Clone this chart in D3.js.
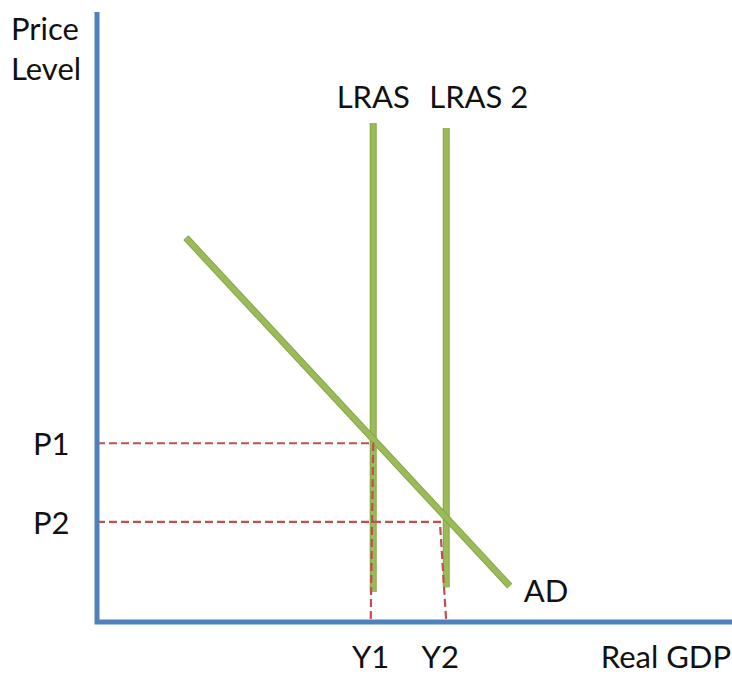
<!DOCTYPE html>
<html>
<head>
<meta charset="utf-8">
<script src="https://cdn.jsdelivr.net/npm/d3@7"></script>
<style>
  body { margin: 0; background: #fff; }
  text { font-family: Lato, "Open Sans", sans-serif; fill: #111; }
</style>
</head>
<body>
<div id="chart"></div>
<script>
const width = 732, height = 677;

// Curves in abstract units (x: real GDP 0-10, y: price level 0-10)
const lrasCurves = [
  { name: "LRAS", x: 4.35, y0: 0.49, y1: 8.18 },
  { name: "LRAS 2", x: 5.50, y0: 0.57, y1: 8.10 }
];
const adPoints = [[1.40, 6.30], [6.50, 0.59]];
const priceLevels = [
  { name: "P1", p: 2.93, xTop: 4.35, xBottom: 4.31 },
  { name: "P2", p: 1.64, xTop: 5.40, xBottom: 5.50 }
];
const outputLabels = ["Y1", "Y2"];

const svg = d3.select("#chart").append("svg")
  .attr("width", width)
  .attr("height", height);

const x = d3.scaleLinear().domain([0, 10]).range([97, 732]);
const y = d3.scaleLinear().domain([0, 10]).range([622, 12]);

const green = "#9BBB59", greenEdge = "#86A648";
const dash = "#C0504D";

// LRAS verticals
lrasCurves.forEach(c => {
  [[greenEdge, 7], [green, 5]].forEach(([col, w]) => {
    svg.append("line")
      .attr("x1", x(c.x)).attr("x2", x(c.x))
      .attr("y1", y(c.y1)).attr("y2", y(c.y0))
      .attr("stroke", col).attr("stroke-width", w);
  });
});

// AD
const line = d3.line().x(d => x(d[0])).y(d => y(d[1]));
[[greenEdge, 7], [green, 5]].forEach(([col, w]) => {
  svg.append("path")
    .datum(adPoints)
    .attr("d", line)
    .attr("fill", "none")
    .attr("stroke", col).attr("stroke-width", w);
});

// dashed guides
priceLevels.forEach(d => {
  svg.append("path")
    .attr("d", line([[0, d.p], [d.xTop, d.p], [d.xBottom, 0]]))
    .attr("fill", "none")
    .attr("stroke", dash)
    .attr("stroke-width", 2.2)
    .attr("stroke-dasharray", "8,4");
});

// axes
svg.append("path")
  .attr("d", line([[0, 10], [0, 0], [10, 0]]))
  .attr("fill", "none")
  .attr("stroke", "#4F81BD")
  .attr("stroke-width", 5);

const fs = "31px";

// axis titles
svg.append("text").attr("x", 11).attr("y", 40).attr("font-size", fs).text("Price");
svg.append("text").attr("x", 11).attr("y", 80).attr("font-size", fs).text("Level");
svg.append("text").attr("x", 731).attr("y", 668).attr("text-anchor", "end")
  .attr("font-size", fs).text("Real GDP");

// curve labels
svg.append("text").attr("x", x(lrasCurves[0].x)).attr("y", 108)
  .attr("text-anchor", "middle").attr("font-size", fs).text(lrasCurves[0].name);
svg.append("text").attr("x", x(lrasCurves[1].x) - 17).attr("y", 108)
  .attr("font-size", fs).text(lrasCurves[1].name);
svg.append("text").attr("x", x(adPoints[1][0]) + 14).attr("y", 602)
  .attr("font-size", fs).text("AD");

// price labels
priceLevels.forEach(d => {
  svg.append("text").attr("x", 33).attr("y", y(d.p) + 12)
    .attr("font-size", fs).text(d.name);
});

// output labels
priceLevels.forEach((d, i) => {
  svg.append("text").attr("x", x(d.xBottom) - (i === 0 ? 0 : 6)).attr("y", 668)
    .attr("text-anchor", "middle")
    .attr("font-size", fs).text(outputLabels[i]);
});
</script>
</body>
</html>
